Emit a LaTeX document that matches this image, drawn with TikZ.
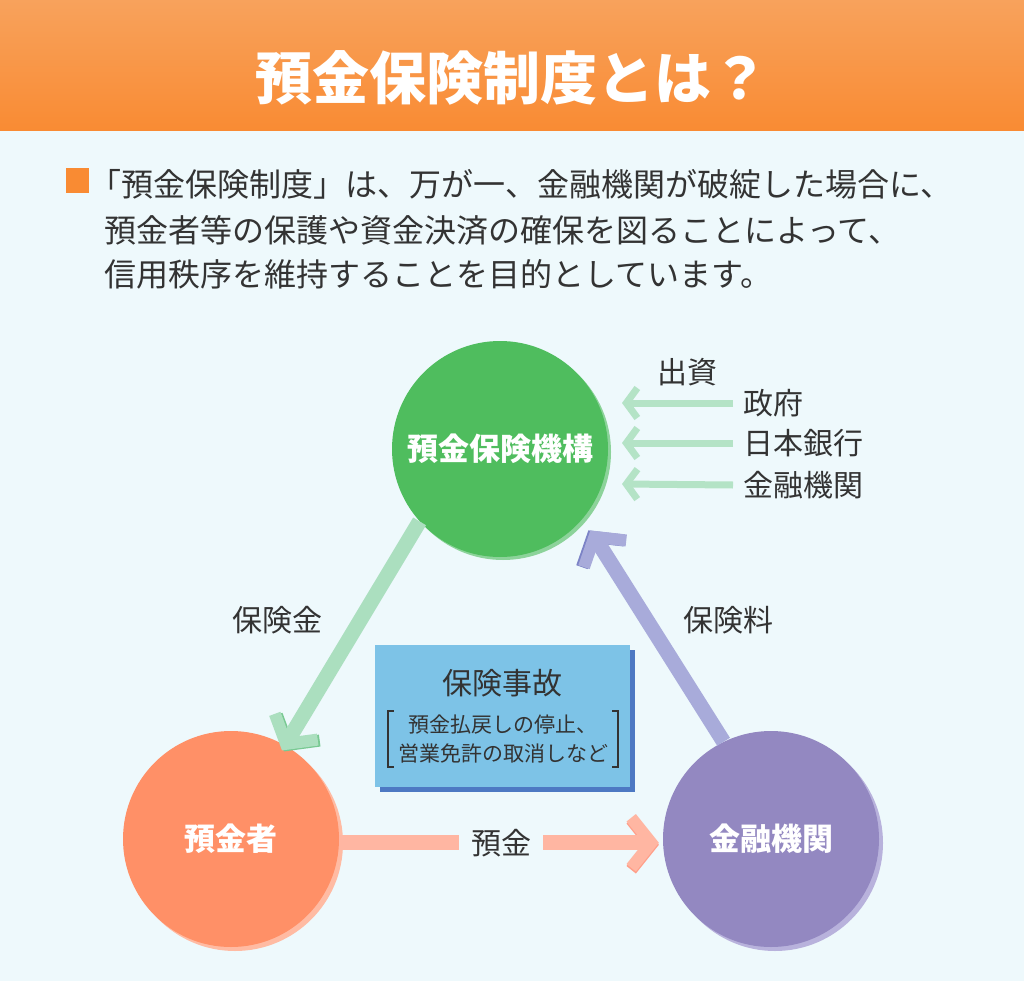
\documentclass[tikz,border=0pt]{standalone}
\usepackage{fontspec}
\setmainfont{Noto Sans CJK JP}
\usetikzlibrary{arrows.meta,shadows}
\definecolor{haikei}{HTML}{EEF9FC}
\definecolor{obiue}{HTML}{F8A25C}
\definecolor{obinaka}{HTML}{FDC590}
\definecolor{obishita}{HTML}{F98B33}
\definecolor{moji}{HTML}{333333}
\definecolor{midori}{HTML}{4FBD5E}
\definecolor{midorikage}{HTML}{8CD39A}
\definecolor{daidai}{HTML}{FF9067}
\definecolor{daidaikage}{HTML}{FFBBA3}
\definecolor{murasaki}{HTML}{9388C1}
\definecolor{murasakikage}{HTML}{B8B2DC}
\definecolor{ao}{HTML}{7DC3E7}
\definecolor{aokage}{HTML}{4D79C3}
\definecolor{yamidori}{HTML}{ABDFBF}
\definecolor{yamidorifuchi}{HTML}{78C992}
\definecolor{yamurasaki}{HTML}{A8ABDA}
\definecolor{yamurasakifuchi}{HTML}{7C83C6}
\definecolor{yadaidai}{HTML}{FFB6A2}
\definecolor{yadaidaifuchi}{HTML}{FF9E88}
\definecolor{yashusshi}{HTML}{B4E3C6}
\begin{document}
\begin{tikzpicture}[x=1pt,y=-1pt,
    maru/.style={circle, minimum size=216pt, inner sep=0pt, text=white,
        font=\bfseries\fontsize{31}{36}\selectfont},
    honbun/.style={anchor=west, inner sep=0pt, text=moji, font=\fontsize{32}{38}\selectfont},
    label/.style={inner sep=0pt, text=moji, font=\fontsize{30}{36}\selectfont},
    futoya/.style={line width=15pt, -{Straight Barb[length=20pt,width=50pt,line width=12pt]}},
    shusshi/.style={draw=yashusshi, line width=7pt, -{Straight Barb[length=11pt,width=30pt,line width=7pt]}},
    kakko/.style={draw=moji, line width=1.8pt}]
    \useasboundingbox (0,0) rectangle (1024,981);
    \fill[haikei] (0,0) rectangle (1024,981);
    \shade[top color=obiue, middle color=obinaka, bottom color=obishita] (0,0) rectangle (1024,131);
    \node[text=white, font=\bfseries\fontsize{57}{62}\selectfont] (midashi) at (512,78) {預金保険制度とは？};
    % setsumei
    \fill[obishita] (66,168) rectangle (89,193);
    \node[honbun] (gyou1) at (89,184) {「預金保険制度」は、万が一、金融機関が破綻した場合に、};
    \node[honbun] (gyou2) at (104,230) {預金者等の保護や資金決済の確保を図ることによって、};
    \node[honbun] (gyou3) at (104,274) {信用秩序を維持することを目的としています。};
    % maru
    \node[maru, fill=midori, drop shadow={shadow xshift=3pt,shadow yshift=-3pt,fill=midorikage,opacity=1}] (kikou) at (500,449) {預金保険機構};
    \node[maru, fill=daidai, drop shadow={shadow xshift=4pt,shadow yshift=-4pt,fill=daidaikage,opacity=1}] (yokinsha) at (231,839) {預金者};
    \node[maru, fill=murasaki, drop shadow={shadow xshift=4pt,shadow yshift=-4pt,fill=murasakikage,opacity=1}] (kinyu) at (771,839) {金融機関};
    % ya
    \draw[futoya, draw=yamidori, preaction={draw=yamidorifuchi, transform canvas={shift={(2pt,-1pt)}}}, shorten >=-6pt] (kikou.222) -- (yokinsha.60);
    \draw[futoya, draw=yamurasaki, preaction={draw=yamurasakifuchi, transform canvas={shift={(-2pt,0pt)}}}, shorten >=14pt] (kinyu.116) -- (kikou.320);
    \draw[futoya, draw=yadaidai, preaction={draw=yadaidaifuchi, transform canvas={shift={(0pt,-2pt)}}}, shorten >=4pt] (yokinsha.-2) -- (kinyu.182)
        node[midway, label, fill=haikei, inner xsep=12pt, inner ysep=4pt] (yokin) {預金};
    \node[label] (hokenkin) at (277,620) {保険金};
    \node[label] (hokenryou) at (728,620) {保険料};
    % shusshi
    \node[label] (shusshimei) at (687,372) {出資};
    \node[label, anchor=west] (seifu) at (743,403) {政府};
    \node[label, anchor=west] (nichigin) at (743,443) {日本銀行};
    \node[label, anchor=west] (kinyukikan) at (743,485) {金融機関};
    \coordinate (saki1) at (622,403);
    \coordinate (saki2) at (622,443);
    \coordinate (saki3) at (622,484);
    \draw[shusshi] ([xshift=-10pt]seifu.west) -- (saki1);
    \draw[shusshi] ([xshift=-10pt]nichigin.west) -- (saki2);
    \draw[shusshi] ([xshift=-10pt]kinyukikan.west) -- (saki3);
    % hoken jiko
    \node[fill=ao, minimum width=255pt, minimum height=142pt, inner sep=0pt,
        drop shadow={shadow xshift=5pt,shadow yshift=-5pt,fill=aokage,opacity=1}] (jiko) at (502.5,716) {};
    \node[label] (jikomei) at (502,683) {保険事故};
    \node[text=moji, align=center, inner xsep=10pt, inner ysep=4pt,
        font=\fontsize{21}{29}\selectfont] (jikorei) at (503,739) {預金払戻しの停止、\\営業免許の取消しなど};
    \draw[kakko] ([xshift=6pt]jikorei.north west) -- (jikorei.north west) -- (jikorei.south west) -- ([xshift=6pt]jikorei.south west);
    \draw[kakko] ([xshift=-6pt]jikorei.north east) -- (jikorei.north east) -- (jikorei.south east) -- ([xshift=-6pt]jikorei.south east);
\end{tikzpicture}
\end{document}
